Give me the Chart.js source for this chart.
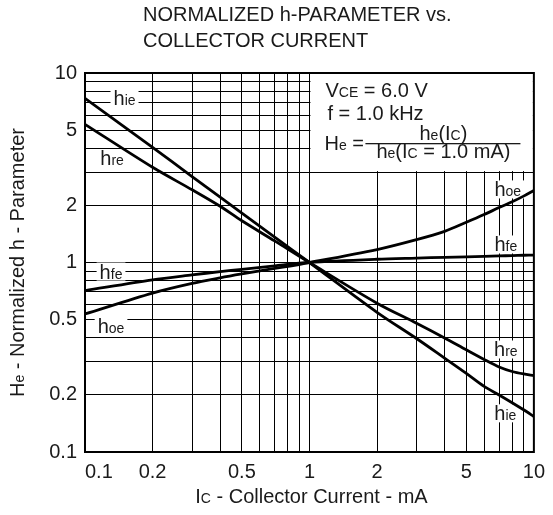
<!DOCTYPE html>
<html>
<head>
<meta charset="utf-8">
<script src="https://cdn.jsdelivr.net/npm/chart.js@4/dist/chart.umd.min.js"></script>
<style>
  html, body { margin: 0; padding: 0; background: #fff; }
</style>
</head>
<body>
<canvas id="hChart" width="553" height="515"></canvas>
<script>
// collector current, mA
const currentMa = [0.1, 0.2, 0.3, 0.4, 0.5, 0.7, 1, 2, 3, 4, 5, 6, 7, 8, 9, 10];
// normalized h-parameters (value / value at Ic = 1.0 mA)
const hieValues = [7.35, 4.05, 2.84, 2.21, 1.82, 1.36, 1, 0.546, 0.397, 0.313, 0.26, 0.222, 0.2, 0.182, 0.167, 0.154];
const hreValues = [5.36, 3.18, 2.42, 1.98, 1.66, 1.30, 1, 0.61, 0.478, 0.40, 0.346, 0.308, 0.281, 0.266, 0.258, 0.253];
const hfeValues = [0.71, 0.81, 0.86, 0.895, 0.92, 0.96, 1, 1.04, 1.055, 1.065, 1.072, 1.078, 1.083, 1.088, 1.092, 1.095];
const hoeValues = [0.535, 0.69, 0.776, 0.83, 0.87, 0.93, 1, 1.17, 1.32, 1.46, 1.63, 1.79, 1.95, 2.09, 2.24, 2.40];

// log grid: 1..9 per decade
const gridValues = [0.1, 0.2, 0.3, 0.4, 0.5, 0.6, 0.7, 0.8, 0.9, 1, 2, 3, 4, 5, 6, 7, 8, 9, 10];
const xTickLabels = ['0.1', '0.2', '0.5', '1', '2', '5', '10'];
const yTickLabels = ['0.1', '0.2', '0.5', '1', '2', '5', '10'];

// curve labels: [main, subscript, x, y] in data units (text centre)
const curveLabels = [
    ['h', 'ie', 0.15, 7.38],
    ['h', 're', 0.132, 3.54],
    ['h', 'fe', 0.1306, 0.896],
    ['h', 'oe', 0.1306, 0.46],
    ['h', 'oe', 7.65, 2.43],
    ['h', 'fe', 7.5, 1.245],
    ['h', 're', 7.5, 0.3475],
    ['h', 'ie', 7.46, 0.16]
];

const FONT = '"Liberation Sans", Arial, Helvetica, sans-serif';
const textColor = '#1a1a1a';
const canvas = document.getElementById('hChart');
const ctx = canvas.getContext('2d');

// draws runs of [text, size] on one baseline, returns total width
function richText(c, parts, x, y, align, measureOnly) {
    let w = 0;
    parts.forEach(function(p) {
        c.font = p[1] + 'px ' + FONT;
        w += c.measureText(p[0]).width;
    });
    if (measureOnly) return w;
    let cx = x;
    if (align === 'center') cx = x - w / 2;
    else if (align === 'right') cx = x - w;
    c.textAlign = 'left';
    c.textBaseline = 'alphabetic';
    parts.forEach(function(p) {
        c.font = p[1] + 'px ' + FONT;
        c.fillText(p[0], cx, y);
        cx += c.measureText(p[0]).width;
    });
    return w;
}

const decorPlugin = {
    id: 'decor',
    beforeDatasetsDraw(chart) {
        const c = chart.ctx;
        const xs = chart.scales.x, ys = chart.scales.y;
        const area = chart.chartArea;
        c.save();
        c.fillStyle = '#fff';
        // conditions box, upper right
        const bx = xs.getPixelForValue(1), by = ys.getPixelForValue(3);
        c.fillRect(bx + 1, area.top + 1, area.right - bx - 2, by - area.top - 2);
        // gaps in the grid behind curve labels
        curveLabels.forEach(function(l) {
            const w = richText(c, [[l[0], 20], [l[1], 14]], 0, 0, 'left', true);
            const px = xs.getPixelForValue(l[2]), py = ys.getPixelForValue(l[3]);
            c.fillStyle = '#fff';
            c.fillRect(px - w / 2 - 3, py - 9, w + 6, 18);
        });
        c.restore();
    },
    afterDraw(chart) {
        const c = chart.ctx;
        const xs = chart.scales.x, ys = chart.scales.y;
        const area = chart.chartArea;
        c.save();
        c.fillStyle = textColor;

        // title
        richText(c, [['NORMALIZED h-PARAMETER vs.', 20]], 143, 21, 'left');
        richText(c, [['COLLECTOR CURRENT', 20]], 143, 47, 'left');

        // axis titles
        richText(c, [['I', 20], ['C', 14], [' - Collector Current - mA', 20]], (area.left + area.right) / 2 + 2, 503, 'center');
        c.save();
        c.translate(24, (area.top + area.bottom) / 2);
        c.rotate(-Math.PI / 2);
        richText(c, [['H', 20], ['e', 14], [' - Normalized h - Parameter', 20]], 0, 0, 'center');
        c.restore();

        // test conditions
        const bx = xs.getPixelForValue(1);
        const top = area.top;
        richText(c, [['V', 20], ['CE', 14], [' = 6.0 V', 20]], bx + 16, top + 24, 'left');
        richText(c, [['f = 1.0 kHz', 20]], bx + 18, top + 47, 'left');
        richText(c, [['H', 20], ['e', 14], [' =', 20]], bx + 15, top + 77, 'left');
        c.fillRect(bx + 56, top + 70, 155, 1.3);
        richText(c, [['h', 20], ['e', 14], ['(I', 20], ['C', 14], [')', 20]], bx + 134, top + 67, 'center');
        richText(c, [['h', 20], ['e', 14], ['(I', 20], ['C', 14], [' = 1.0 mA)', 20]], bx + 134, top + 85, 'center');

        // curve labels
        curveLabels.forEach(function(l) {
            const px = xs.getPixelForValue(l[2]), py = ys.getPixelForValue(l[3]);
            richText(c, [[l[0], 20], [l[1], 14]], px, py + 7, 'center');
        });

        // plot frame
        c.strokeStyle = '#000';
        c.lineWidth = 2;
        c.strokeRect(area.left, area.top, area.right - area.left, area.bottom - area.top);
        c.restore();
    }
};

function curve(values) {
    return {
        data: values.map(function(v, i) { return { x: currentMa[i], y: v }; }),
        borderColor: '#000',
        borderWidth: 2.8,
        pointRadius: 0,
        tension: 0.3,
        fill: false
    };
}

function logAxis(labels, fit) {
    return {
        type: 'logarithmic',
        min: 0.1,
        max: 10,
        afterBuildTicks: function(scale) {
            scale.ticks = gridValues.map(function(v) { return { value: v }; });
        },
        afterFit: fit,
        grid: { color: '#000', lineWidth: 1, drawTicks: false },
        border: { display: false },
        ticks: {
            autoSkip: false,
            maxRotation: 0,
            color: textColor,
            font: { family: FONT, size: 20 },
            padding: 8,
            callback: function(value) {
                const s = String(value);
                return labels.includes(s) ? s : '';
            }
        }
    };
}

const xAxis = logAxis(xTickLabels, function(scale) { scale.height = 63; });
xAxis.ticks.callback = function(value) {
    const s = String(value);
    if (!xTickLabels.includes(s)) return '';
    // first label sits clear of the corner
    return s === '0.1' ? '     0.1' : s;
};
const yAxis = logAxis(yTickLabels, function(scale) { scale.width = 85; });

new Chart(ctx, {
    type: 'line',
    data: {
        datasets: [curve(hieValues), curve(hreValues), curve(hfeValues), curve(hoeValues)]
    },
    options: {
        responsive: false,
        animation: false,
        layout: { padding: { top: 73, right: 13, left: 0, bottom: 0 } },
        plugins: {
            legend: { display: false },
            title: { display: false },
            tooltip: { enabled: false }
        },
        scales: { x: xAxis, y: yAxis }
    },
    plugins: [decorPlugin]
});
</script>
</body>
</html>
